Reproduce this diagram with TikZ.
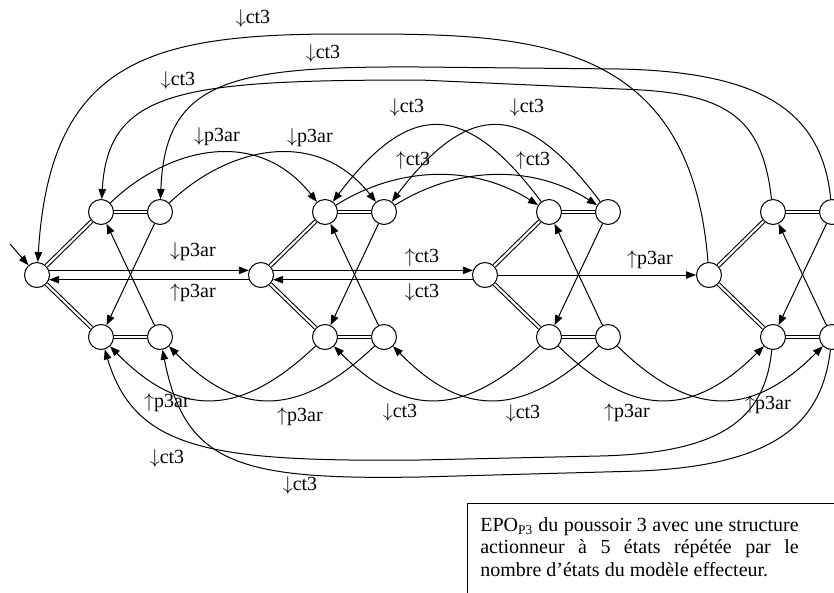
\documentclass[tikz,border=0pt]{standalone}
\usepackage{fontspec}
\setmainfont{Liberation Serif}
\usetikzlibrary{arrows.meta}
\newcommand{\dn}{$\downarrow$}
\newcommand{\up}{$\uparrow$}
\begin{document}
\begin{tikzpicture}[x=0.6pt,y=-0.6pt,
  st/.style={circle,draw,fill=white,minimum size=15pt,inner sep=0pt,line width=0.6pt},
  arr/.style={-{Triangle[length=6pt,width=4.5pt]},line width=0.6pt},
  dbl/.style={double,double distance=1.3pt,line width=0.65pt},
  lbl/.style={font=\fontsize{12}{14}\selectfont,inner sep=0pt},
  capt/.style={font=\fontsize{12}{13.5}\selectfont,inner sep=0pt,align=left}]
\useasboundingbox (0,0) rectangle (834,592);

% states
\foreach \g/\x in {1/37,2/261,3/485,4/709}{
  \node[st] (C\g) at (\x,275) {};
  \node[st] (A\g) at (\x+64,212) {};
  \node[st] (B\g) at (\x+123,212) {};
  \node[st] (D\g) at (\x+64,337) {};
  \node[st] (E\g) at (\x+123,337) {};
}
% inside each group
\foreach \g in {1,...,4}{
  \draw[dbl] (C\g) -- (A\g);
  \draw[dbl] (C\g) -- (D\g);
  \draw[dbl] (A\g) -- (B\g);
  \draw[dbl] (D\g) -- (E\g);
  \draw[arr] (B\g) -- (D\g);
  \draw[arr] (E\g) -- (A\g);
}
% initial arrow
\coordinate (init) at (10,244);
\draw[arr] (init) -- (C1);

% horizontal transitions
\draw[arr] (C1.21) -- (C2.159);
\draw[arr] (C2.-159) -- (C1.-21);
\draw[arr] (C2.21) -- (C3.159);
\draw[arr] (C3.-159) -- (C2.-21);
\draw[arr] (C3) -- (C4);

% top arcs
\draw[arr] (A1) .. controls (165,150) and (255,124) .. (A2);
\draw[arr] (B1) .. controls (224,150) and (314,124) .. (B2);
\draw[arr] (A2) .. controls (400,165) and (475,165) .. (A3);
\draw[arr] (B2) .. controls (459,165) and (534,165) .. (B3);
\draw[arr] (A3) .. controls (465,100) and (410,100) .. (A2);
\draw[arr] (B3) .. controls (524,100) and (469,100) .. (B2);

% bottom arcs
\draw[arr] (D2) .. controls (240,418) and (180,418) .. (D1);
\draw[arr] (E2) .. controls (299,418) and (239,418) .. (E1);
\draw[arr] (D3) .. controls (464,418) and (404,418) .. (D2);
\draw[arr] (E3) .. controls (523,418) and (463,418) .. (E2);
\draw[arr] (D3) .. controls (632,418) and (692,418) .. (D4);
\draw[arr] (E3) .. controls (691,418) and (751,418) .. (E4);

% long arcs (top)
\draw[arr] (C4) .. controls (690,30) and (520,34) .. (340,34) .. controls (150,34) and (50,60) .. (C1);
\draw[arr] (B4) .. controls (822,110) and (760,72) .. (620,69) -- (420,67) .. controls (230,66) and (165,80) .. (B1);
\draw[arr] (A4) .. controls (762,115) and (725,92) .. (620,89) -- (420,80) .. controls (180,80) and (108,90) .. (A1);

% long arcs (bottom)
\draw[arr] (D4) .. controls (765,420) and (720,453) .. (600,456) -- (420,460) .. controls (210,462) and (135,450) .. (D1);
\draw[arr] (E4) .. controls (822,420) and (780,465) .. (640,471) -- (420,477) .. controls (240,480) and (185,465) .. (E1);

% labels
\node[lbl] (l1) at (253,18) {\dn ct3};
\node[lbl] (l2) at (323,53) {\dn ct3};
\node[lbl] (l3) at (178,80) {\dn ct3};
\node[lbl] (l4) at (217,137) {\dn p3ar};
\node[lbl] (l5) at (310,138) {\dn p3ar};
\node[lbl] (l6) at (407,107) {\dn ct3};
\node[lbl] (l7) at (527,107) {\dn ct3};
\node[lbl] (l8) at (413,160) {\up ct3};
\node[lbl] (l9) at (533,160) {\up ct3};
\node[lbl] (l10) at (193,252) {\dn p3ar};
\node[lbl] (l11) at (193,293) {\up p3ar};
\node[lbl] (l12) at (422,257) {\up ct3};
\node[lbl] (l13) at (422,292) {\dn ct3};
\node[lbl] (l14) at (650,260) {\up p3ar};
\node[lbl] (l15) at (167,403) {\up p3ar};
\node[lbl] (l16) at (300,417) {\up p3ar};
\node[lbl] (l17) at (400,412) {\dn ct3};
\node[lbl] (l18) at (523,413) {\dn ct3};
\node[lbl] (l19) at (627,413) {\up p3ar};
\node[lbl] (l20) at (768,405) {\up p3ar};
\node[lbl] (l21) at (167,458) {\dn ct3};
\node[lbl] (l22) at (300,485) {\dn ct3};

% caption box
\coordinate (bx1) at (467,600);
\coordinate (bx2) at (467,503);
\coordinate (bx3) at (845,503);
\draw[line width=0.6pt] (bx1) -- (bx2) -- (bx3);
\node[capt,anchor=north west] (cap) at (480,517) {%
\makebox[191pt][s]{EPO\textsubscript{P3} du poussoir 3 avec une structure}\\
\makebox[191pt][s]{actionneur à 5 états répétée par le}\\
nombre d’états du modèle effecteur.};
\end{tikzpicture}
\end{document}
